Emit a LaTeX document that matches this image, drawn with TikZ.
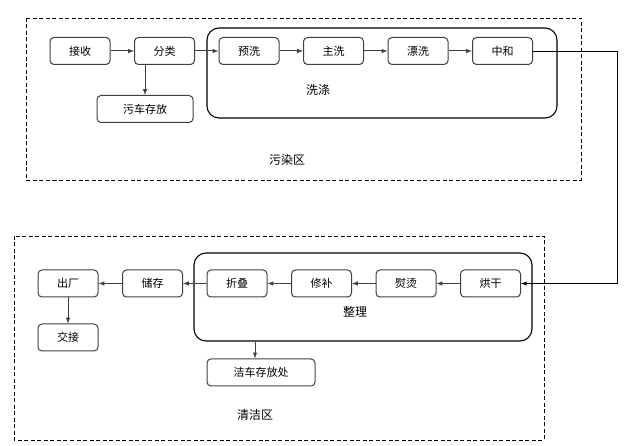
\documentclass[tikz,border=0pt]{standalone}
\usepackage{fontspec}
\setmainfont{Noto Sans CJK SC}
\usepackage{tikz}
\usetikzlibrary{arrows,shapes}
\usetikzlibrary{positioning}
\tikzstyle{step box}=[draw=black!75, line width=1pt, rounded corners=4pt,
                minimum width=60pt, minimum height=27pt, inner sep=0pt,
                font=\fontsize{11}{12}\selectfont]
\tikzstyle{group}=[draw=black, line width=1.1pt, rounded corners=12pt]
\tikzstyle{zone}=[draw=black, line width=0.8pt, dash pattern=on 4pt off 2.5pt]
\tikzstyle{flow}=[draw=black!75, line width=1pt, ->, >=latex]
\tikzstyle{caption}=[font=\fontsize{12}{13}\selectfont]

\begin{document}
\begin{tikzpicture}[x=1pt, y=-1pt]
\useasboundingbox (0,0) rectangle (633,446);

% zones and groups
\draw[zone] (26,18) rectangle (581,180);
\draw[zone] (14,236) rectangle (544,440);
\node[group, minimum width=350pt, minimum height=90pt] (xidi) at (382,73) {};
\node[group, minimum width=338pt, minimum height=88pt] (zhengli) at (363,297) {};
\node[caption] at (318,90) {洗涤};
\node[caption] at (355,312) {整理};
\node[caption] at (287,160) {污染区};
\node[caption] at (255,415) {清洁区};

% dirty side
\node[step box] (jieshou) at (80,51) {接收};
\node[step box, right = 23.5pt of jieshou] (fenlei) {分类};
\node[step box, right = 23.5pt of fenlei] (yuxi) {预洗};
\node[step box, right = 23.5pt of yuxi] (zhuxi) {主洗};
\node[step box, right = 23.5pt of zhuxi] (piaoxi) {漂洗};
\node[step box, right = 23.5pt of piaoxi] (zhonghe) {中和};
\node[step box, minimum width=96pt] (wuche) at (145,109) {污车存放};

\draw[flow] (jieshou) -- (fenlei);
\draw[flow] (fenlei) -- (yuxi);
\draw[flow] (yuxi) -- (zhuxi);
\draw[flow] (zhuxi) -- (piaoxi);
\draw[flow] (piaoxi) -- (zhonghe);
\draw[flow] (wuche.north |- fenlei.south) -- (wuche.north);

% clean side
\node[step box] (honggan) at (490.5,283.5) {烘干};
\node[step box, left = 23.5pt of honggan] (yuntang) {熨烫};
\node[step box, left = 23.5pt of yuntang] (xiubu) {修补};
\node[step box, left = 23.5pt of xiubu] (zhedie) {折叠};
\node[step box, left = 23.5pt of zhedie] (chucun) {储存};
\node[step box, left = 23.5pt of chucun] (chuchang) {出厂};
\node[step box, below = 26pt of chuchang] (jiaojie) {交接};
\node[step box, minimum width=108pt] (jieche) at (261,372.5) {洁车存放处};

\draw[flow] (honggan) -- (yuntang);
\draw[flow] (yuntang) -- (xiubu);
\draw[flow] (xiubu) -- (zhedie);
\draw[flow] (zhedie) -- (chucun);
\draw[flow] (chucun) -- (chuchang);
\draw[flow] (chuchang) -- (jiaojie);
\draw[flow] ([xshift=-6pt]jieche.north |- zhengli.south) -- ([xshift=-6pt]jieche.north);

% dirty to clean
\draw[flow, draw=black, line width=0.9pt] (zhonghe.east) -- ++(84,0) |- (honggan.east);
\end{tikzpicture}
\end{document}
